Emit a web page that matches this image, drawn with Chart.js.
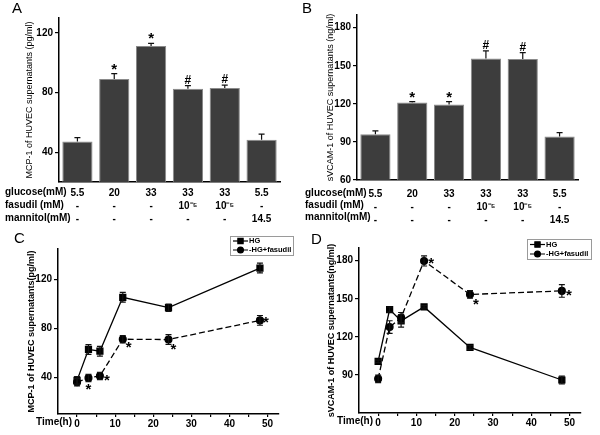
<!DOCTYPE html>
<html>
<head>
<meta charset="utf-8">
<script src="https://cdn.jsdelivr.net/npm/chart.js@4.4.1/dist/chart.umd.min.js"></script>
<style>
  html, body { margin: 0; padding: 0; background: #fff; }
  body { width: 600px; height: 435px; position: relative; overflow: hidden; }
  canvas { position: absolute; }
  #cA { left: 0; top: 0; }
  #cB { left: 300px; top: 0; }
  #cC { left: 0; top: 218px; }
  #cD { left: 300px; top: 218px; }
</style>
</head>
<body>
<canvas id="cA" width="300" height="225" style="width:300px;height:225px"></canvas>
<canvas id="cB" width="300" height="225" style="width:300px;height:225px"></canvas>
<canvas id="cC" width="300" height="217" style="width:300px;height:217px"></canvas>
<canvas id="cD" width="300" height="217" style="width:300px;height:217px"></canvas>
<script>
// treatment groups (bar panels)
var glucose = ['5.5', '20', '33', '33', '33', '5.5'];
var fasudil = ['-', '-', '-', '10\u207B\u2075', '10\u207B\u2075', '-'];
var mannitol = ['-', '-', '-', '-', '-', '14.5'];

// A: MCP-1 (pg/ml)
var mcpBar = [47.2, 89.1, 111.3, 82.6, 83.0, 48.3];
var mcpBarErr = [2.6, 3.6, 1.7, 2.0, 2.0, 3.8];
var mcpBarMarks = ['', '*', '*', '#', '#', ''];
var mcpBarTicks = [40, 80, 120];

// B: sVCAM-1 (ng/ml)
var vcamBar = [96.1, 121.0, 119.4, 155.8, 155.3, 94.2];
var vcamBarErr = [2.6, 0.8, 2.4, 6.0, 5.0, 3.1];
var vcamBarMarks = ['', '*', '*', '#', '#', ''];
var vcamBarTicks = [60, 90, 120, 150, 180];

// time course (C, D)
var times = [0, 3, 6, 12, 24, 48];
var timeTicks = [0, 5, 10, 15, 20, 25, 30, 35, 40, 45, 50];

var mcpHG = [37.5, 62.8, 61.4, 105.5, 97.0, 129.4];
var mcpHGErr = [3, 4, 4, 4, 3, 4];
var mcpFas = [36.0, 39.5, 41.1, 71.2, 70.9, 86.6];
var mcpFasErr = [3, 3, 3, 3, 4, 4];
var mcpFasMarks = ['', '*', '*', '*', '*', '*'];
var mcpLineTicks = [40, 80, 120];

var vcamHG = [100.7, 141.5, 132.6, 143.6, 111.7, 86.0];
var vcamHGErr = [1, 2, 5, 1, 1.5, 3];
var vcamFas = [86.9, 127.7, 135.2, 179.8, 153.4, 156.2];
var vcamFasErr = [3, 5, 4, 4, 3, 5];
var vcamFasMarks = ['', '', '', '*', '*', '*'];
var vcamLineTicks = [90, 120, 150, 180];

var FAM = '"Liberation Sans", Arial, sans-serif';
var tickFont = { family: FAM, size: 10, weight: 'bold' };

// error bars, significance marks, panel letter, row labels, legend
var decor = {
  id: 'decor',
  afterDatasetsDraw: function (chart, args, o) {
    var ctx = chart.ctx, ys = chart.scales.y;
    ctx.save();
    ctx.setLineDash([]);
    ctx.strokeStyle = '#111';
    ctx.lineWidth = 1.2;
    (o.errors || []).forEach(function (e) {
      var meta = chart.getDatasetMeta(e.ds);
      var raw = chart.data.datasets[e.ds].data;
      meta.data.forEach(function (el, i) {
        var v = typeof raw[i] === 'object' ? raw[i].y : raw[i];
        var top = ys.getPixelForValue(v + e.err[i]);
        var bot = e.both ? ys.getPixelForValue(v - e.err[i]) : el.y;
        ctx.beginPath();
        ctx.moveTo(el.x, bot); ctx.lineTo(el.x, top);
        ctx.moveTo(el.x - e.cap, top); ctx.lineTo(el.x + e.cap, top);
        if (e.both) { ctx.moveTo(el.x - e.cap, bot); ctx.lineTo(el.x + e.cap, bot); }
        ctx.stroke();
        var m = e.marks ? e.marks[i] : '';
        if (m) {
          ctx.fillStyle = '#000';
          ctx.textAlign = 'center';
          ctx.textBaseline = 'alphabetic';
          ctx.font = 'bold 15px ' + FAM;
          if (e.offs) {
            ctx.fillText(m, el.x + e.offs[i][0], el.y + e.offs[i][1] + 8);
          } else {
            if (m === '#') ctx.font = 'bold 12px ' + FAM;
            ctx.fillText(m, el.x, top - (m === '#' ? 2 : 0));
          }
        }
      });
    });
    ctx.restore();
  },
  afterDraw: function (chart, args, o) {
    var ctx = chart.ctx;
    ctx.save();
    ctx.fillStyle = '#000';
    ctx.font = '15px ' + FAM;
    ctx.textAlign = 'left';
    ctx.textBaseline = 'middle';
    ctx.fillText(o.letter[0], o.letter[1], o.letter[2]);
    ctx.font = 'bold 10px ' + FAM;
    (o.rows || []).forEach(function (r) { ctx.fillText(r[0], r[1], r[2]); });
    if (o.timeLabel) {
      ctx.textAlign = 'right';
      ctx.fillText('Time(h)', o.timeLabel[0], o.timeLabel[1]);
    }
    if (o.legend) {
      var L = o.legend;
      ctx.strokeStyle = '#9a9a9a';
      ctx.lineWidth = 1;
      ctx.strokeRect(L.x + 0.5, L.y + 0.5, L.w, L.h);
      ctx.font = 'bold 7.5px ' + FAM;
      ctx.textAlign = 'left';
      chart.data.datasets.forEach(function (ds, i) {
        var yy = L.y + L.rows[i];
        ctx.strokeStyle = '#000';
        ctx.lineWidth = 1.2;
        ctx.setLineDash(ds.borderDash || []);
        ctx.beginPath();
        ctx.moveTo(L.x + 3, yy); ctx.lineTo(L.x + 18, yy);
        ctx.stroke();
        ctx.setLineDash([]);
        Chart.helpers.drawPoint(ctx, { pointStyle: ds.pointStyle, radius: ds.pointRadius - 0.5, borderWidth: 1 }, L.x + 10.5, yy);
        ctx.fillStyle = '#000';
        ctx.fill();
        ctx.fillText((i ? '-' : '') + ds.label, L.x + 19, yy);
      });
    }
    ctx.restore();
  }
};
Chart.register(decor);

function yAxis(min, max, ticks, title, bold, width, titleX) {
  return {
    min: min, max: max,
    afterBuildTicks: function (s) { s.ticks = ticks.map(function (v) { return { value: v }; }); },
    afterFit: function (s) { s.width = width; },
    grid: { drawOnChartArea: false, drawTicks: true, tickLength: 4, color: '#000', lineWidth: 1.2 },
    border: { color: '#000', width: 1.5 },
    ticks: { color: '#000', font: tickFont, padding: 2 },
    title: {
      display: true, text: title, color: '#000',
      font: { family: FAM, size: 9, weight: bold ? 'bold' : 'normal' },
      padding: { top: titleX - 5.4, bottom: 0 }
    }
  };
}

function barChart(id, values, errs, marks, ticks, min, max, title, geo) {
  var labels = glucose.map(function (g, i) { return [g, fasudil[i], mannitol[i]]; });
  new Chart(document.getElementById(id), {
    type: 'bar',
    data: {
      labels: labels,
      datasets: [{
        data: values,
        backgroundColor: '#3d3d3d',
        borderColor: '#8a8a8a',
        borderWidth: 1,
        barPercentage: 0.82,
        categoryPercentage: 1
      }]
    },
    options: {
      responsive: false,
      animation: false,
      layout: { padding: { left: 0, top: geo.top, right: geo.right, bottom: 0 } },
      scales: {
        x: {
          afterFit: function (s) { s.height = geo.xh; },
          grid: { display: false },
          border: { color: '#000', width: 1.5 },
          ticks: { color: '#000', font: { family: FAM, size: 10, weight: 'bold', lineHeight: 1.28 }, padding: geo.pad, maxRotation: 0, autoSkip: false }
        },
        y: yAxis(min, max, ticks, title, false, geo.w, geo.tx)
      },
      plugins: {
        legend: { display: false },
        tooltip: { enabled: false },
        decor: {
          letter: geo.letter,
          rows: [['glucose(mM)', 5, geo.rows[0]], ['fasudil (mM)', 5, geo.rows[1]], ['mannitol(mM)', 5, geo.rows[2]]],
          errors: [{ ds: 0, err: errs, cap: 3, both: false, marks: marks }]
        }
      }
    }
  });
}

function pts(ys) { return times.map(function (t, i) { return { x: t, y: ys[i] }; }); }

function lineChart(id, hg, hgErr, fas, fasErr, fasMarks, ticks, min, max, title, geo) {
  new Chart(document.getElementById(id), {
    type: 'line',
    data: {
      datasets: [{
        label: 'HG', data: pts(hg),
        borderColor: '#000', backgroundColor: '#000', borderWidth: 1.3,
        pointStyle: 'rect', pointRadius: 4.2, pointBackgroundColor: '#000', pointBorderColor: '#000', tension: 0
      }, {
        label: 'HG+fasudil', data: pts(fas),
        borderColor: '#000', backgroundColor: '#000', borderWidth: 1.3, borderDash: [6, 3],
        pointStyle: 'circle', pointRadius: 3.4, pointBackgroundColor: '#000', pointBorderColor: '#000', tension: 0
      }]
    },
    options: {
      responsive: false,
      animation: false,
      layout: { padding: { left: 0, top: geo.top, right: geo.right, bottom: 0 } },
      scales: {
        x: {
          type: 'linear', min: -5, max: 53,
          afterBuildTicks: function (s) { s.ticks = timeTicks.map(function (v) { return { value: v }; }); },
          afterFit: function (s) { s.height = geo.xh; },
          grid: { drawOnChartArea: false, drawTicks: true, tickLength: 3, color: '#000', lineWidth: 1.2 },
          border: { color: '#000', width: 1.5 },
          ticks: {
            color: '#000', font: tickFont, padding: 1, maxRotation: 0, autoSkip: false,
            callback: function (v) { return v % 10 === 0 ? String(v) : ''; }
          }
        },
        y: yAxis(min, max, ticks, title, true, geo.w, geo.tx)
      },
      plugins: {
        legend: { display: false },
        tooltip: { enabled: false },
        decor: {
          letter: geo.letter,
          timeLabel: geo.time,
          legend: geo.legend,
          errors: [
            { ds: 0, err: hgErr, cap: 3, both: true },
            { ds: 1, err: fasErr, cap: 3, both: true, marks: fasMarks, offs: geo.starOffs }
          ]
        }
      }
    }
  });
}

barChart('cA', mcpBar, mcpBarErr, mcpBarMarks, mcpBarTicks, 20, 130,
  'MCP-1 of HUVEC supernatants (pg/ml)',
  { top: 18, right: 20, xh: 43, w: 59, tx: 30, pad: -2.7, letter: ['A', 12, 9], rows: [192.5, 205.3, 218] });

barChart('cB', vcamBar, vcamBarErr, vcamBarMarks, vcamBarTicks, 60, 190,
  'sVCAM-1 of HUVEC supernatants (ng/ml)',
  { top: 15, right: 22, xh: 45, w: 57, tx: 31, pad: 0.3, letter: ['B', 2, 9], rows: [193.5, 205.3, 217] });

lineChart('cC', mcpHG, mcpHGErr, mcpFas, mcpFasErr, mcpFasMarks, mcpLineTicks, 10, 145,
  'MCP-1 of HUVEC supernatants(pg/ml)',
  { top: 31, right: 21, xh: 21, w: 58, tx: 31.5, letter: ['C', 14, 21], time: [72, 204],
    legend: { x: 230, y: 18, w: 63, h: 19, rows: [5, 14] },
    starOffs: [[0, 0], [0, 8], [7, 1], [6, 5], [5, 6], [6, -1]] });

lineChart('cD', vcamHG, vcamHGErr, vcamFas, vcamFasErr, vcamFasMarks, vcamLineTicks, 60, 190,
  'sVCAM-1 of HUVEC supernatants(ng/ml)',
  { top: 30, right: 19, xh: 22, w: 59, tx: 31.7, letter: ['D', 11, 22], time: [73, 203],
    legend: { x: 227, y: 21, w: 64, h: 20, rows: [5.5, 15] },
    starOffs: [[0, 0], [0, 0], [0, 0], [7, -1], [6, 7], [7, 1]] });
</script>
</body>
</html>
